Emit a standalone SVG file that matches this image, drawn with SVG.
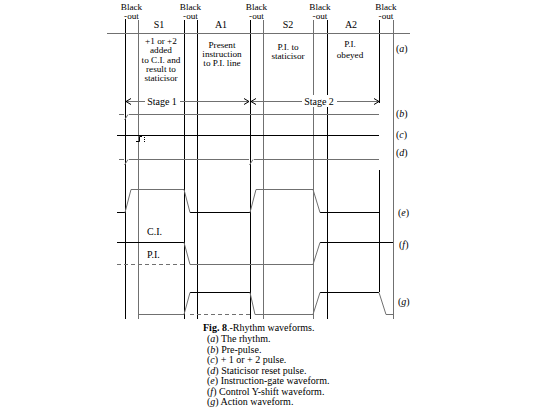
<svg xmlns="http://www.w3.org/2000/svg" width="546" height="411" viewBox="0 0 546 411" font-family="'Liberation Serif','Times New Roman',serif">
<style>
text{font-family:"Liberation Serif","Times New Roman",serif;font-size:10px;fill:#000}
.c{text-anchor:middle}
.s{font-size:9.2px}
.i{font-style:italic}
.k{stroke:#000;stroke-width:1;fill:none}
.g{stroke:#707070;stroke-width:1;fill:none}
.d{stroke:#707070;stroke-width:1;fill:none;stroke-dasharray:4 3}
</style>
<rect width="546" height="411" fill="#fff"/>
<g id="headers">
<text class="c s" x="131.5" y="10">Black</text><text class="c s" x="131.5" y="19">-out</text>
<text class="c s" x="190.5" y="10">Black</text><text class="c s" x="190.5" y="19">-out</text>
<text class="c s" x="256.5" y="10">Black</text><text class="c s" x="256.5" y="19">-out</text>
<text class="c s" x="320" y="10">Black</text><text class="c s" x="320" y="19">-out</text>
<text class="c s" x="386" y="10">Black</text><text class="c s" x="386" y="19">-out</text>
<text class="c" x="159" y="28">S1</text>
<text class="c" x="221" y="28">A1</text>
<text class="c" x="288" y="28">S2</text>
<text class="c" x="351" y="28">A2</text>
</g>
<g id="phase-s1">
<text class="c s" x="161" y="44">+1 or +2</text>
<text class="c s" x="161" y="53">added</text>
<text class="c s" x="161" y="62.5">to C.I. and</text>
<text class="c s" x="161" y="72">result to</text>
<text class="c s" x="161" y="81">staticisor</text>
</g>
<g id="phase-a1">
<text class="c s" x="222" y="48">Present</text>
<text class="c s" x="222" y="57">instruction</text>
<text class="c s" x="222" y="66">to P.I. line</text>
</g>
<g id="phase-s2">
<text class="c s" x="288" y="50">P.I. to</text>
<text class="c s" x="288" y="59">staticisor</text>
</g>
<g id="phase-a2">
<text class="c s" x="350" y="47">P.I.</text>
<text class="c s" x="350" y="58">obeyed</text>
</g>
<g id="row-labels">
<text x="396" y="52">(<tspan class="i">a</tspan>)</text>
<text x="396" y="117">(<tspan class="i">b</tspan>)</text>
<text x="396" y="138">(<tspan class="i">c</tspan>)</text>
<text x="396" y="156">(<tspan class="i">d</tspan>)</text>
<text x="398" y="216">(<tspan class="i">e</tspan>)</text>
<text x="399" y="248">(<tspan class="i">f</tspan>)</text>
<text x="398" y="305">(<tspan class="i">g</tspan>)</text>
<text x="147" y="235">C.I.</text>
<text x="147" y="258">P.I.</text>
<text class="c" x="162" y="105">Stage 1</text>
<text class="c" x="319" y="105">Stage 2</text>
</g>
<g id="connectors">
<path class="k" d="M125.5,19V319M184.5,20V319M197.5,20V319M250.5,20V319M327.5,20V95M327.5,107V319M379.5,20V103M379.5,170V292"/>
<path class="g" d="M138.5,20V319M263.5,20V319M313.5,20V95M313.5,107V319M393.5,20V319"/>
<path class="g" d="M107,33.5H410"/>
<path class="g" d="M126,101.5H145M180,101.5H249M251,101.5H302M337,101.5H379"/>
<path class="k" d="M131,98.5L126,101.5L131,104.5M244,98.5L249,101.5L244,104.5M256,98.5L251,101.5L256,104.5M374,98.5L379,101.5L374,104.5"/>
<path class="g" d="M119,114.5H124M129,114.5H379M124.5,120L128,114.5"/>
<path class="k" d="M117,135.5H379M136,141.5H139.5V136.5H142"/>
<path class="k" d="M144.5,137V142" stroke-dasharray="1 1"/>
<path class="g" d="M119,159.5H124M129,159.5H249M254,159.5H379M124.5,165L128,159.5M249.5,165L253,159.5"/>
<path class="k" d="M117,212.5H125M190,212.5H250M320,212.5H379"/>
<path class="g" d="M125,212.5L131,189.5H184L190,212.5M250,212.5L256,189.5H313L320,212.5"/>
<path class="k" d="M117,242.5H184M320,242.5H393"/>
<path class="g" d="M184,242.5L190,264.5H313L320,242.5"/>
<path class="d" d="M117,264.5H184"/>
<path class="k" d="M190,292.5H250M320,292.5H379"/>
<path class="g" d="M138,314.5H184L190,292.5M250,292.5L255,314.5H313L320,292.5M379,292.5L386,314.5H393"/>
<path class="d" d="M190,314.5H250"/>
</g>
<g id="caption">
<text x="203" y="331"><tspan font-weight="bold">Fig. 8</tspan>.-Rhythm waveforms.</text>
<text x="207" y="342">(<tspan class="i">a</tspan>) The rhythm.</text>
<text x="207" y="352.5">(<tspan class="i">b</tspan>) Pre-pulse.</text>
<text x="207" y="363">(<tspan class="i">c</tspan>) + 1 or + 2 pulse.</text>
<text x="207" y="373.5">(<tspan class="i">d</tspan>) Staticisor reset pulse.</text>
<text x="207" y="384">(<tspan class="i">e</tspan>) Instruction-gate waveform.</text>
<text x="207" y="394.5">(<tspan class="i">f</tspan>) Control Y-shift waveform.</text>
<text x="207" y="405">(<tspan class="i">g</tspan>) Action waveform.</text>
</g>
</svg>
